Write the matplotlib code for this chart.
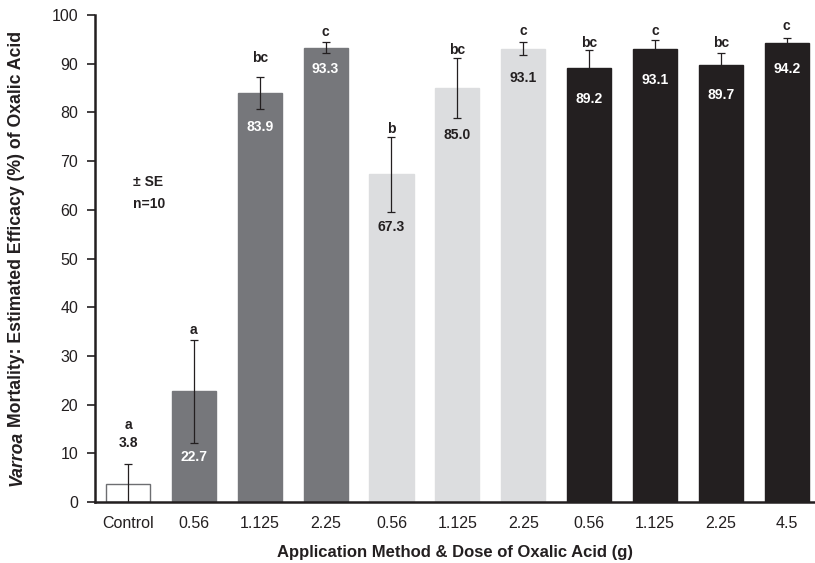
import matplotlib
matplotlib.use("Agg")
import matplotlib.pyplot as plt
import numpy as np

plt.rcParams['font.family'] = ['Liberation Sans', 'DejaVu Sans']

# data
doses = ["Control", "0.56", "1.125", "2.25", "0.56", "1.125", "2.25",
         "0.56", "1.125", "2.25", "4.5"]
efficacy = [3.8, 22.7, 83.9, 93.3, 67.3, 85.0, 93.1, 89.2, 93.1, 89.7, 94.2]
se = [4.1, 10.5, 3.3, 1.2, 7.7, 6.2, 1.35, 3.6, 1.8, 2.4, 1.0]
letters = ["a", "a", "bc", "c", "b", "bc", "c", "bc", "c", "bc", "c"]
method = [0, 1, 1, 1, 2, 2, 2, 3, 3, 3, 3]

fill_cols = ["white", "#76777b", "#dcdddf", "#231f20"]
edge_cols = ["#6d6e71", "#76777b", "#dcdddf", "#231f20"]
text_cols = ["#231f20", "white", "#231f20", "white"]
dark = "#231f20"

# label placement (y in data units)
letter_y = [15.8, 35.3, 91.2, 96.6, 76.6, 92.8, 96.7, 94.2, 96.7, 94.2, 97.7]
value_y = [12.2, 9.3, 76.9, 88.9, 56.5, 75.4, 87.1, 82.7, 86.6, 83.6, 89.0]

fig = plt.figure(figsize=(8.15, 5.63), dpi=100)
ax = fig.add_axes([0.1166, 0.1083, 0.8834, 0.8651])

x = np.arange(len(doses))
ax.bar(x, efficacy, width=0.67,
       color=[fill_cols[m] for m in method],
       edgecolor=[edge_cols[m] for m in method], linewidth=1.0, zorder=2)
ax.errorbar(x, efficacy, yerr=se, fmt="none", ecolor=dark,
            elinewidth=0.9, capsize=3, capthick=0.9, zorder=3)

for i in range(len(x)):
    ax.text(x[i], letter_y[i], letters[i], ha="center", va="center",
            fontsize=10, fontweight="bold", color=dark, zorder=4)
    ax.text(x[i], value_y[i], f"{efficacy[i]:.1f}", ha="center", va="center",
            fontsize=10, fontweight="bold", color=text_cols[method[i]], zorder=4)

ax.text(0.07, 63.5, "± SE\nn=10", ha="left", va="center", fontsize=10,
        fontweight="bold", color=dark, linespacing=1.75)

ax.set_xlim(-0.5, 10.43)
ax.set_ylim(0, 100)
ax.set_yticks(range(0, 101, 10))
ax.set_xticks(x)
ax.set_xticklabels(doses)
ax.tick_params(axis="x", length=0, pad=10, labelsize=11.5, colors=dark)
ax.tick_params(axis="y", direction="out", length=6, width=1.2, pad=6,
               labelsize=11.5, colors=dark)
for s in ["top", "right"]:
    ax.spines[s].set_visible(False)
for s in ["left", "bottom"]:
    ax.spines[s].set_linewidth(1.8)
    ax.spines[s].set_color(dark)

ax.set_xlabel("Application Method & Dose of Oxalic Acid (g)", fontsize=12,
              fontweight="bold", color=dark, labelpad=10)

# y label: "Varroa" in bold italic, rest bold, stacked bottom to top
fs = 12.7
xl = 17 / 815
renderer = fig.canvas.get_renderer()
t1 = fig.text(xl, 0, "Varroa", rotation=90, fontsize=fs, fontweight="bold",
              fontstyle="italic", color=dark, ha="center", va="bottom")
t2 = fig.text(xl, 0, "Mortality: Estimated Efficacy (%) of Oxalic Acid",
              rotation=90, fontsize=fs, fontweight="bold", color=dark,
              ha="center", va="bottom")
h1 = t1.get_window_extent(renderer).height
h2 = t2.get_window_extent(renderer).height
gap = 4
total = h1 + gap + h2
center_px = 563 - 258.5
y0 = center_px - total / 2
t1.set_y(y0 / 563)
t2.set_y((y0 + h1 + gap) / 563)

fig.savefig("out.png", dpi=100)
